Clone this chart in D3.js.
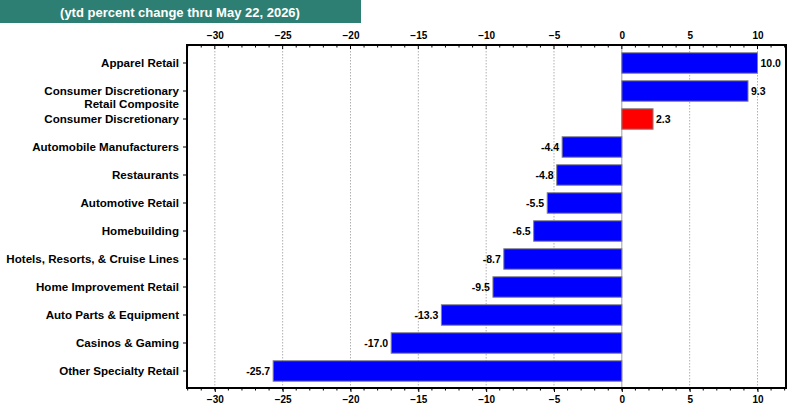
<!DOCTYPE html>
<html>
<head>
<meta charset="utf-8">
<script src="https://cdn.jsdelivr.net/npm/d3@7"></script>
<style>
  body { margin: 0; background: #fff; }
  svg { font-family: Arial, "Liberation Sans", sans-serif; }
</style>
</head>
<body>
<div id="chart"></div>
<script>
// chart data
var categories = [
  "Apparel Retail",
  "Consumer Discretionary|Retail Composite",
  "Consumer Discretionary",
  "Automobile Manufacturers",
  "Restaurants",
  "Automotive Retail",
  "Homebuilding",
  "Hotels, Resorts, & Cruise Lines",
  "Home Improvement Retail",
  "Auto Parts & Equipment",
  "Casinos & Gaming",
  "Other Specialty Retail"
];
var values = [10.0, 9.3, 2.3, -4.4, -4.8, -5.5, -6.5, -8.7, -9.5, -13.3, -17.0, -25.7];
var highlight = ["Consumer Discretionary"];
var majorTicks = [-30, -25, -20, -15, -10, -5, 0, 5, 10];
var title = "(ytd percent change thru May 22, 2026)";

var w = 800, h = 420;
var mLeft = 187, mRight = 786, mTop = 45, mBottom = 388;
var fontFam = "Arial, 'Liberation Sans', sans-serif";

var svg = d3.select("#chart").append("svg")
  .attr("width", w).attr("height", h);

// title banner
svg.append("rect")
  .attr("x", 0).attr("y", 0).attr("width", 361).attr("height", 23)
  .attr("fill", "#2e7f73");
svg.append("text")
  .attr("x", 180).attr("y", 16.5)
  .attr("text-anchor", "middle")
  .attr("fill", "#fff")
  .attr("font-weight", "bold")
  .attr("font-size", 13)
  .text(title);

var xScale = d3.scaleLinear().domain([-32.05, 12.1]).range([mLeft, mRight]);
var yScale = d3.scaleBand().domain(categories).range([49, 385]).paddingInner(0.27).paddingOuter(0.135);

var minor = d3.range(-32, 13, 1);

// gridlines
svg.append("g").selectAll("line")
  .data(majorTicks.filter(function(d) { return d !== 0; }))
  .enter().append("line")
  .attr("x1", function(d) { return xScale(d); })
  .attr("x2", function(d) { return xScale(d); })
  .attr("y1", mTop).attr("y2", mBottom)
  .attr("stroke", "#b0b0b0")
  .attr("stroke-dasharray", "1.5,1.5");

// zero line
svg.append("line")
  .attr("x1", xScale(0)).attr("x2", xScale(0))
  .attr("y1", mTop).attr("y2", mBottom)
  .attr("stroke", "#a0a0a0");

// bars
svg.append("g").selectAll("rect")
  .data(values)
  .enter().append("rect")
  .attr("x", function(d) { return xScale(Math.min(0, d)); })
  .attr("y", function(d, i) { return yScale(categories[i]); })
  .attr("width", function(d) { return Math.abs(xScale(d) - xScale(0)); })
  .attr("height", yScale.bandwidth())
  .attr("fill", function(d, i) {
    return highlight.indexOf(categories[i]) >= 0 ? "#ff0000" : "#0000ff";
  })
  .attr("stroke", "#808080")
  .attr("stroke-width", 1);

// value labels
svg.append("g").selectAll("text")
  .data(values)
  .enter().append("text")
  .attr("x", function(d) { return d >= 0 ? xScale(d) + 3 : xScale(d) - 3; })
  .attr("y", function(d, i) { return yScale(categories[i]) + yScale.bandwidth() / 2 + 3.5; })
  .attr("text-anchor", function(d) { return d >= 0 ? "start" : "end"; })
  .attr("font-size", 10.5)
  .attr("font-weight", "bold")
  .text(function(d) { return d.toFixed(1); });

// top axis
var xTop = d3.axisTop(xScale).tickValues(majorTicks).tickSize(0).tickPadding(6);
var gTop = svg.append("g").attr("transform", "translate(0," + mTop + ")").call(xTop);
// bottom axis
var xBottom = d3.axisBottom(xScale).tickValues(majorTicks).tickSize(4).tickPadding(4);
var gBottom = svg.append("g").attr("transform", "translate(0," + mBottom + ")").call(xBottom);

[gTop, gBottom].forEach(function(g) {
  g.select(".domain").remove();
  g.selectAll("text").attr("font-size", 10).attr("font-weight", "bold").attr("fill", "#000")
    .attr("font-family", fontFam);
});

// minor ticks
svg.append("g").selectAll("line")
  .data(minor)
  .enter().append("line")
  .attr("x1", function(d) { return xScale(d); })
  .attr("x2", function(d) { return xScale(d); })
  .attr("y1", mTop).attr("y2", function(d) { return mTop + (d % 5 === 0 ? 4 : 2.5); })
  .attr("stroke", "#000");
svg.append("g").selectAll("line")
  .data(minor)
  .enter().append("line")
  .attr("x1", function(d) { return xScale(d); })
  .attr("x2", function(d) { return xScale(d); })
  .attr("y1", mBottom).attr("y2", mBottom + 2.5)
  .attr("stroke", "#000");

// y axis
var yAxis = d3.axisLeft(yScale).tickSize(4).tickPadding(3).tickFormat("");
var gY = svg.append("g").attr("transform", "translate(" + mLeft + ",0)").call(yAxis);
gY.select(".domain").remove();
gY.selectAll(".tick").each(function(d) {
  var lines = d.split("|");
  var t = d3.select(this).append("text")
    .attr("x", -8).attr("y", 0)
    .attr("text-anchor", "end")
    .attr("fill", "#000")
    .attr("font-size", 11.6)
    .attr("font-weight", "bold")
    .attr("font-family", fontFam);
  lines.forEach(function(l, i) {
    t.append("tspan").attr("x", -8).attr("dy", i === 0 ? "0.35em" : "1.15em").text(l);
  });
});

// frame
svg.append("rect")
  .attr("x", mLeft).attr("y", mTop)
  .attr("width", mRight - mLeft).attr("height", mBottom - mTop)
  .attr("fill", "none")
  .attr("stroke", "#000")
  .attr("stroke-width", 2);
</script>
</body>
</html>
